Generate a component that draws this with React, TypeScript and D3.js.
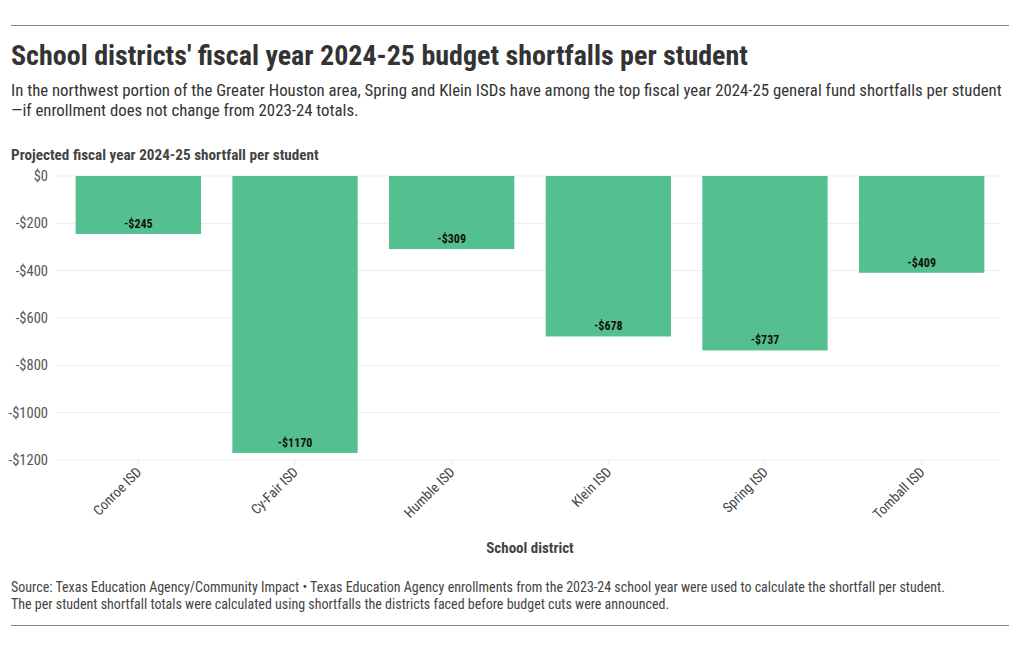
import React from "react";
import * as d3 from "d3";

const districts = ["Conroe ISD", "Cy-Fair ISD", "Humble ISD", "Klein ISD", "Spring ISD", "Tomball ISD"];
const shortfalls = [-245, -1170, -309, -678, -737, -409];
const yTicks = [0, -200, -400, -600, -800, -1000, -1200];

const W = 1020;
const H = 650;
const FONT = "'Roboto Condensed', 'Liberation Sans Narrow', 'DejaVu Sans Condensed', Roboto, sans-serif";

export default function App() {
  const x = d3.scaleBand<string>().domain(districts).range([60, 1000]).paddingInner(0.2).paddingOuter(0.1);
  const y = d3.scaleLinear().domain([-1200, 0]).range([460, 176]);
  const fmt = (v: number) => (v < 0 ? "-$" + Math.abs(v) : "$" + v);

  return (
    <svg width={W} height={H} style={{ position: "absolute", left: 0, top: 0, fontFamily: FONT }}>
      <rect width={W} height={H} fill="#fff" />
      <line x1={11} x2={1009} y1={25.5} y2={25.5} stroke="#888" />
      <text x={11} y={65} fontSize={28} fontWeight={700} fill="#333">
        School districts' fiscal year 2024-25 budget shortfalls per student
      </text>
      <text x={11} y={96} fontSize={16.8} fill="#333">
        In the northwest portion of the Greater Houston area, Spring and Klein ISDs have among the top fiscal year 2024-25 general fund shortfalls per student
      </text>
      <text x={11} y={116} fontSize={16.8} fill="#333">
        —if enrollment does not change from 2023-24 totals.
      </text>
      <text x={11} y={160} fontSize={15.2} fontWeight={700} fill="#444">
        Projected fiscal year 2024-25 shortfall per student
      </text>

      {yTicks.map((t) => (
        <g key={t}>
          <line x1={56} x2={1000} y1={y(t)} y2={y(t)} stroke="#ececec" />
          <text x={48} y={y(t)} dy="0.35em" textAnchor="end" fontSize={14.5} fill="#555">
            {fmt(t)}
          </text>
        </g>
      ))}

      {districts.map((d, i) => {
        const v = shortfalls[i];
        const x0 = x(d)!;
        return (
          <g key={d}>
            <rect x={x0} y={y(0)} width={x.bandwidth()} height={y(v) - y(0)} fill="#55c08f" />
            <text
              x={x0 + x.bandwidth() / 2}
              y={y(v) - 6}
              textAnchor="middle"
              fontSize={12}
              fontWeight={700}
              fill="#111"
            >
              {fmt(v)}
            </text>
            <line x1={x0 + x.bandwidth() / 2} x2={x0 + x.bandwidth() / 2} y1={460} y2={465} stroke="#ececec" />
            <text
              transform={`translate(${x0 + x.bandwidth() / 2 + 4},${473}) rotate(-45)`}
              textAnchor="end"
              fontSize={14}
              fill="#444"
            >
              {d}
            </text>
          </g>
        );
      })}

      <text x={530} y={553} textAnchor="middle" fontSize={15} fontWeight={700} fill="#444">
        School district
      </text>

      <text x={11} y={592} fontSize={14} fill="#444">
        Source: Texas Education Agency/Community Impact • Texas Education Agency enrollments from the 2023-24 school year were used to calculate the shortfall per student.
      </text>
      <text x={11} y={609} fontSize={14} fill="#444">
        The per student shortfall totals were calculated using shortfalls the districts faced before budget cuts were announced.
      </text>
      <line x1={11} x2={1009} y1={625.5} y2={625.5} stroke="#888" />
    </svg>
  );
}
